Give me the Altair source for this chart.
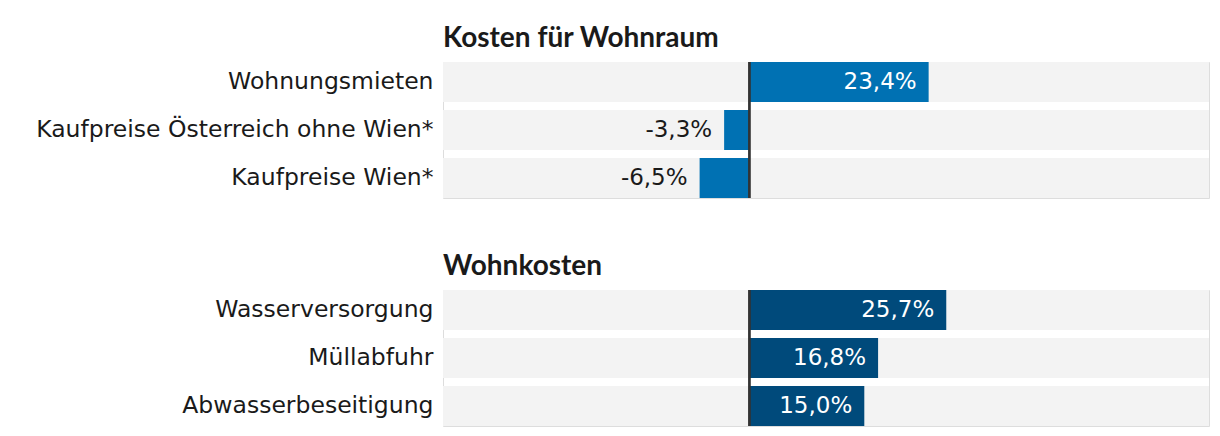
import altair as alt
import pandas as pd

titles = ["Kosten für Wohnraum", "Wohnkosten"]
cats1 = ["Wohnungsmieten", "Kaufpreise Österreich ohne Wien*", "Kaufpreise Wien*"]
vals1 = [23.4, -3.3, -6.5]
cats2 = ["Wasserversorgung", "Müllabfuhr", "Abwasserbeseitigung"]
vals2 = [25.7, 16.8, 15.0]
colors = ["#0071b3", "#004a7b"]
x_min, x_max = -40, 60

LABEL_FONT = "DejaVu Sans"
TITLE_FONT = "Lato"
TEXT_COLOR = "#1a1a1a"


def fmt(v):
    return f"{v:.1f}".replace(".", ",") + "%"


def panel(cats, vals, title, color):
    df = pd.DataFrame({
        "cat": cats,
        "val": vals,
        "label": [fmt(v) for v in vals],
        "lo": [x_min] * len(cats),
        "hi": [x_max] * len(cats),
        "zero": [0] * len(cats),
        "tcol": ["white" if v >= 0 else TEXT_COLOR for v in vals],
    })
    y = alt.Y(
        "cat:N", sort=cats, title=None,
        scale=alt.Scale(paddingInner=1 / 6, paddingOuter=0),
        axis=alt.Axis(ticks=False, domain=False, grid=False,
                      labelFontSize=23.5, labelFont=LABEL_FONT, labelFontWeight="normal",
                      labelColor=TEXT_COLOR, labelPadding=10, labelLimit=600,
                      minExtent=434, maxExtent=434),
    )
    xs = alt.Scale(domain=[x_min, x_max], nice=False)
    base = alt.Chart(df)
    bg = base.mark_bar(color="#f3f3f3").encode(
        y=y, x=alt.X("lo:Q", scale=xs, axis=None), x2="hi:Q")
    bars = base.mark_bar(color=color).encode(
        y=y, x=alt.X("val:Q", scale=xs, axis=None))
    txt = base.mark_text(align="right", baseline="middle", dx=-12, fontSize=23,
                         font=LABEL_FONT, fontWeight="normal").encode(
        y=y, x=alt.X("val:Q", scale=xs, axis=None), text="label:N",
        color=alt.Color("tcol:N", scale=None))
    rule = base.mark_rule(color="#333333", strokeWidth=2).encode(
        x=alt.X("zero:Q", scale=xs, axis=None))
    return alt.layer(bg, bars, rule, txt).properties(
        width=766, height=136,
        title=alt.TitleParams(title, anchor="start", frame="group", fontSize=28,
                              font=TITLE_FONT, fontWeight="bold", color=TEXT_COLOR,
                              offset=8),
    )


chart = alt.vconcat(
    panel(cats1, vals1, titles[0], colors[0]),
    panel(cats2, vals2, titles[1], colors[1]),
    spacing=52,
).configure_view(stroke=None).configure(
    background="white", padding={"top": 16, "left": 0, "right": 0, "bottom": 0})

chart.save("out.html", embed_options={"renderer": "svg", "actions": False})
